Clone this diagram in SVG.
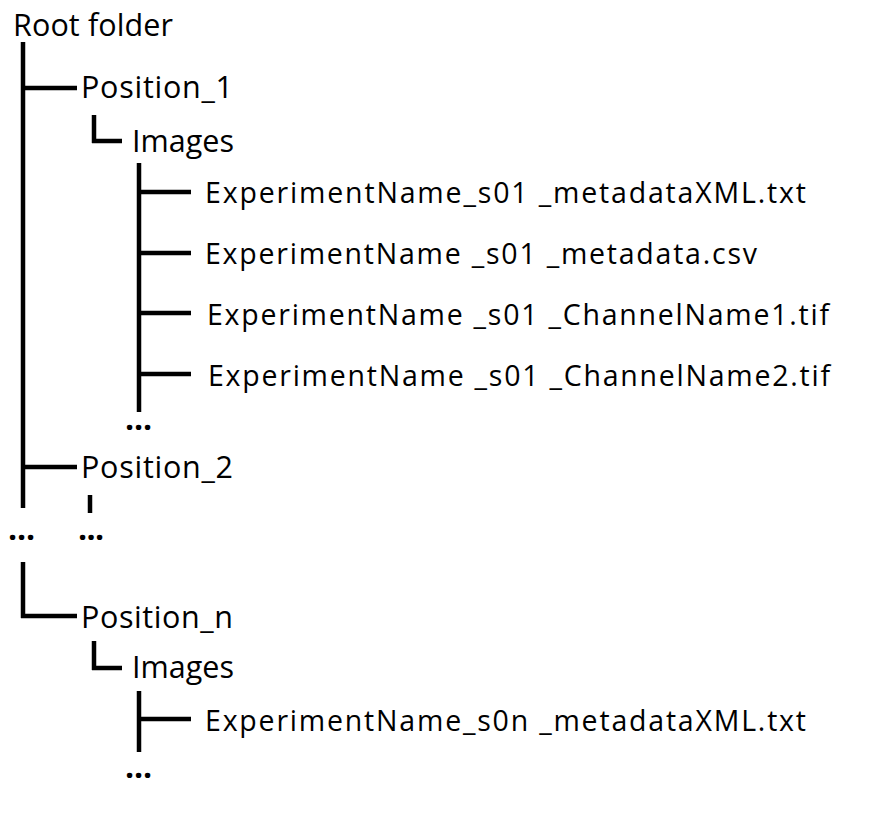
<svg xmlns="http://www.w3.org/2000/svg" width="888" height="834" viewBox="0 0 888 834">
<style>
text{font-family:"Open Sans","Noto Sans","Liberation Sans",sans-serif;fill:#000}
.lbl{font-size:30.5px}
.file{font-size:28.5px}
.dots{font-size:32px;font-weight:bold}
.conn line{stroke:#000;stroke-width:4.5;fill:none}
</style>
<rect width="888" height="834" fill="#fff"/>
<g class="conn" id="connectors">
<line x1="23" y1="42" x2="23" y2="508"/>
<line x1="23" y1="88" x2="77" y2="88"/>
<line x1="94" y1="115" x2="94" y2="143"/>
<line x1="92" y1="141" x2="122" y2="141"/>
<line x1="139" y1="163" x2="139" y2="412"/>
<line x1="139" y1="192" x2="191" y2="192"/>
<line x1="139" y1="253" x2="191" y2="253"/>
<line x1="139" y1="313" x2="191" y2="313"/>
<line x1="139" y1="374" x2="191" y2="374"/>
<line x1="23" y1="467" x2="77" y2="467"/>
<line x1="90" y1="495" x2="90" y2="513"/>
<line x1="23" y1="562" x2="23" y2="618"/>
<line x1="21" y1="616" x2="77" y2="616"/>
<line x1="94" y1="641" x2="94" y2="670"/>
<line x1="92" y1="668" x2="122" y2="668"/>
<line x1="139" y1="691" x2="139" y2="752"/>
<line x1="139" y1="719" x2="191" y2="719"/>
</g>
<g id="root"><text class="lbl" x="13" y="36" textLength="160">Root folder</text></g>
<g id="pos1"><text class="lbl" x="81" y="98" textLength="152">Position_1</text></g>
<g id="images1"><text class="lbl" x="132" y="152" textLength="102">Images</text></g>
<g id="file1"><text class="file" x="205" y="203" textLength="601">ExperimentName_s01 _metadataXML.txt</text></g>
<g id="file2"><text class="file" x="205" y="264" textLength="552">ExperimentName _s01 _metadata.csv</text></g>
<g id="file3"><text class="file" x="207" y="325" textLength="622">ExperimentName _s01 _ChannelName1.tif</text></g>
<g id="file4"><text class="file" x="208" y="386" textLength="622">ExperimentName _s01 _ChannelName2.tif</text></g>
<g id="dots1"><text class="dots" x="125" y="430" textLength="27">...</text></g>
<g id="pos2"><text class="lbl" x="81" y="478" textLength="152">Position_2</text></g>
<g id="dots2"><text class="dots" x="8" y="540" textLength="27">...</text></g>
<g id="dots3"><text class="dots" x="78" y="540" textLength="26">...</text></g>
<g id="posn"><text class="lbl" x="81" y="628" textLength="152">Position_n</text></g>
<g id="images2"><text class="lbl" x="132" y="678" textLength="102">Images</text></g>
<g id="file5"><text class="file" x="205" y="731" textLength="601">ExperimentName_s0n _metadataXML.txt</text></g>
<g id="dots4"><text class="dots" x="125" y="778" textLength="27">...</text></g>
</svg>
